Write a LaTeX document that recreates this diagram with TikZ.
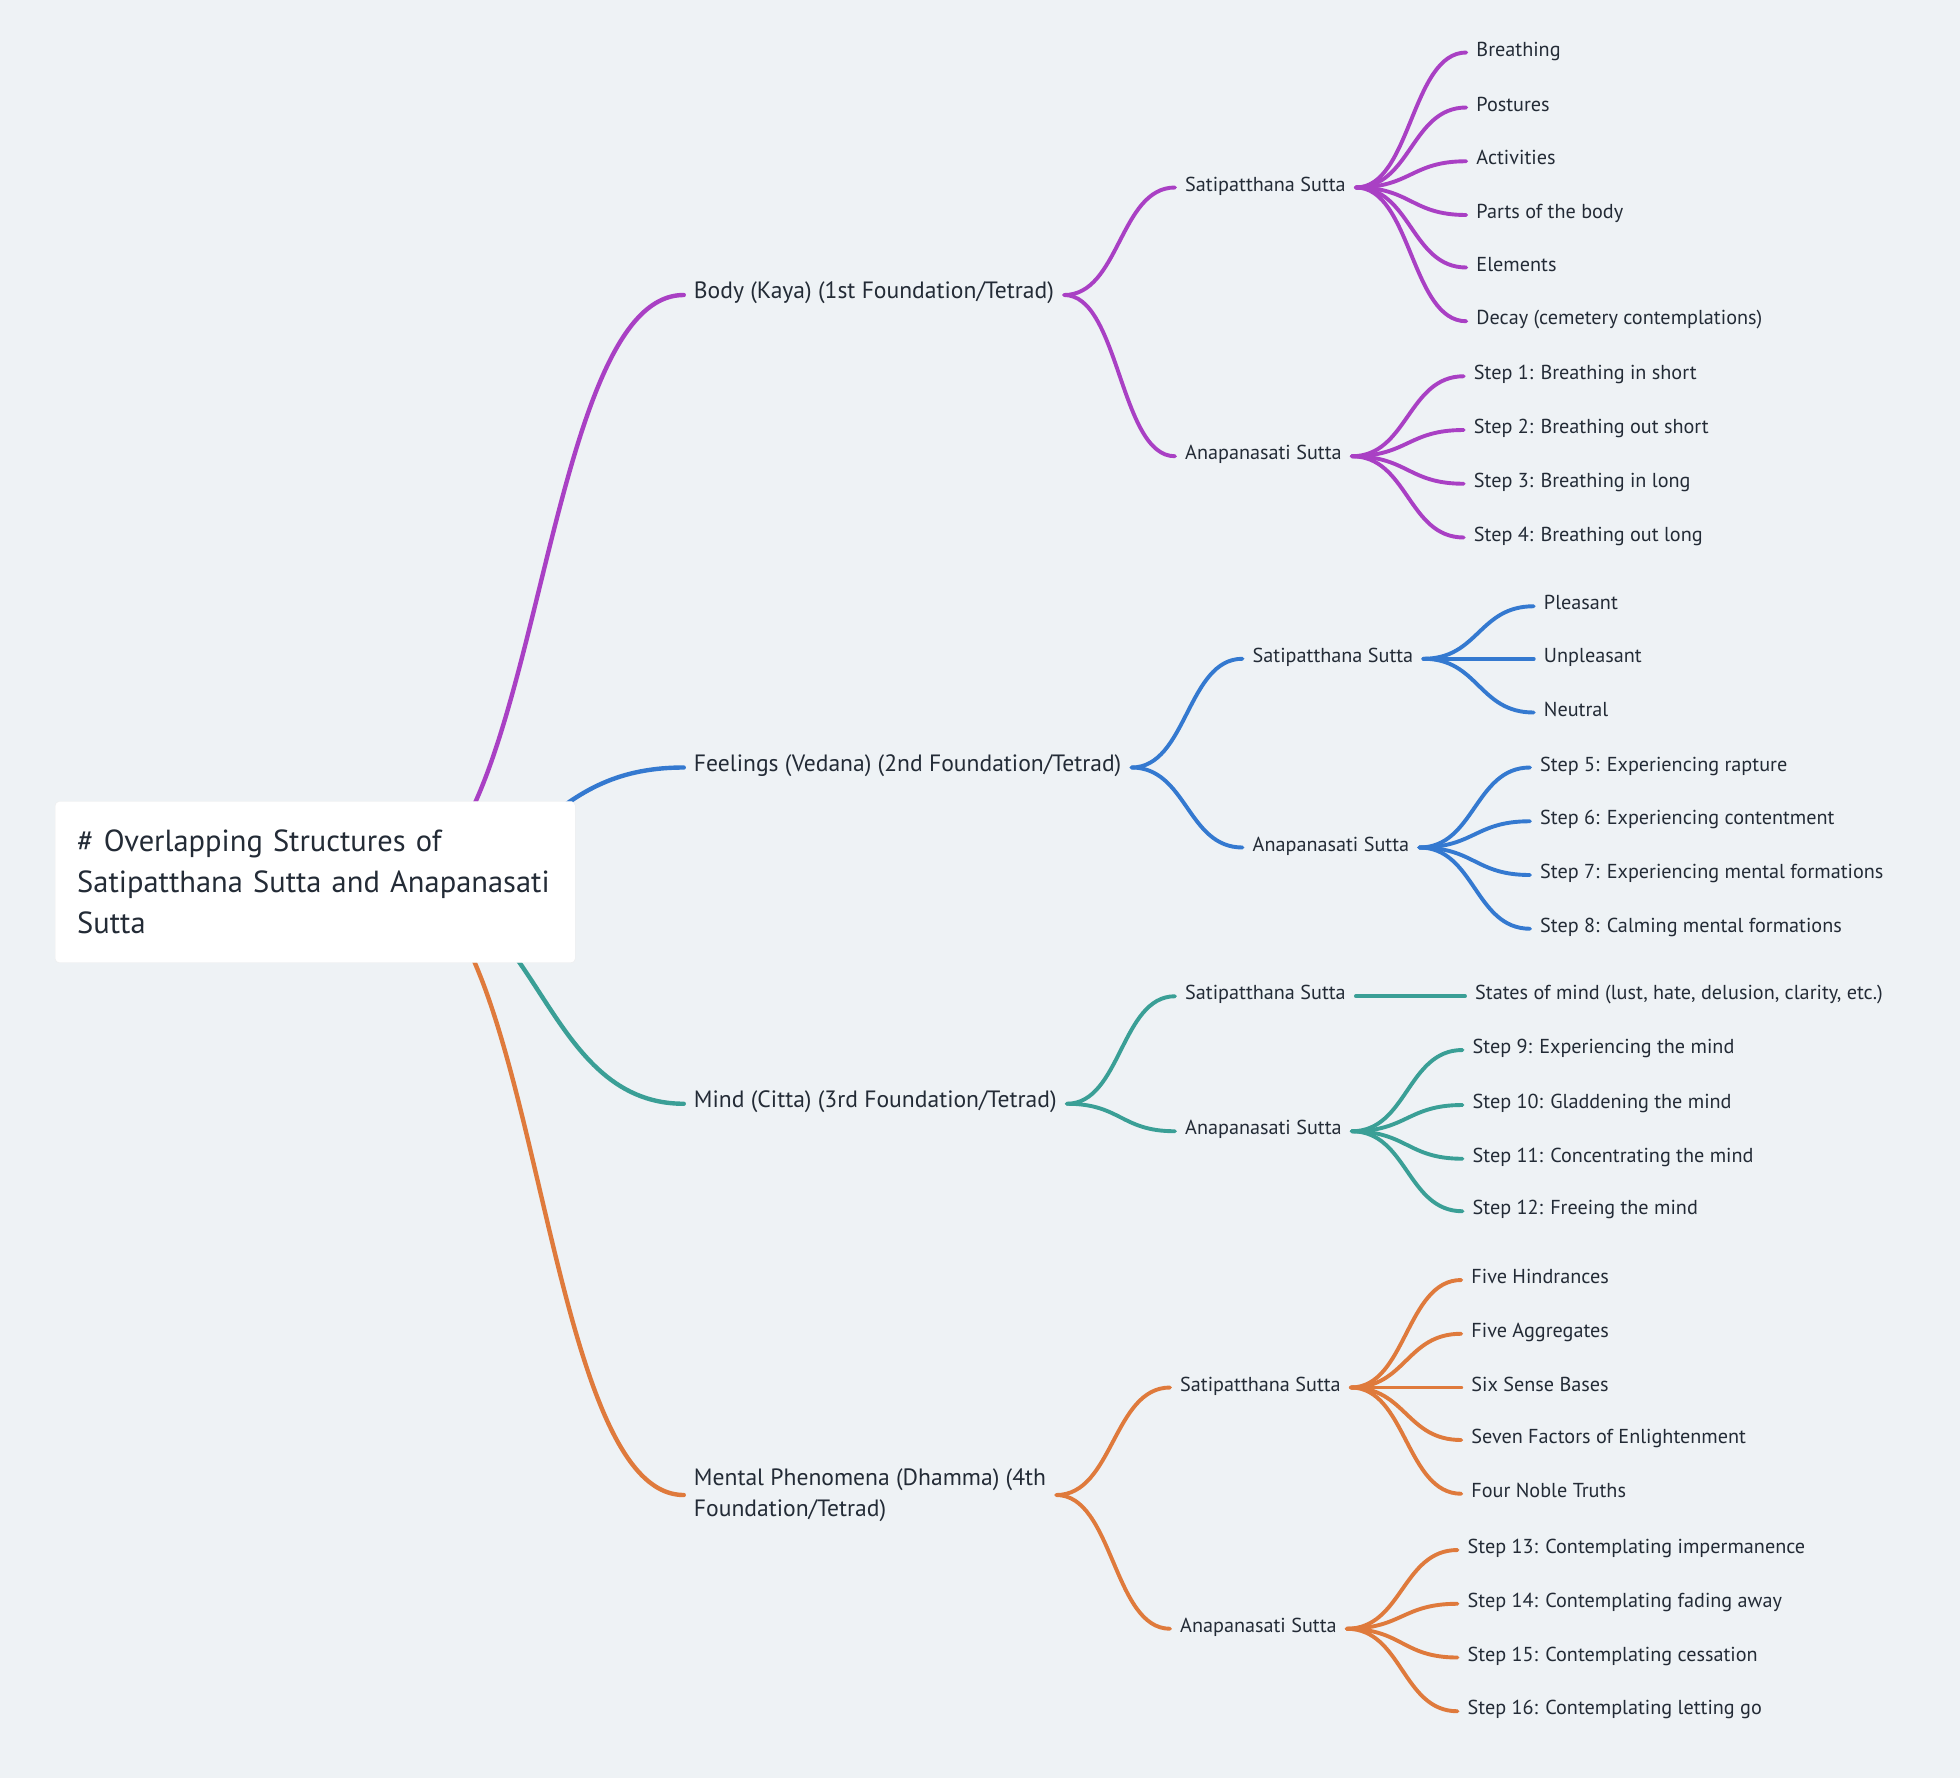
\documentclass[tikz,border=0pt]{standalone}
\usepackage{fontspec}
\setmainfont{PT Sans}
\usetikzlibrary{calc}
\definecolor{bgc}{HTML}{EEF2F5}
\definecolor{txt}{HTML}{232B36}
\definecolor{cpurp}{HTML}{A940C4}
\definecolor{cblue}{HTML}{3479D0}
\definecolor{cteal}{HTML}{3A9F96}
\definecolor{corange}{HTML}{DF7A3C}
\pgfdeclarelayer{bg}
\pgfsetlayers{bg,main}
\tikzset{
  lbl/.style={anchor=west, inner xsep=10pt, inner ysep=2pt, text=txt, text height=0.95em, text depth=0.25em, font=\fontsize{20.2}{24}\selectfont},
  lone/.style={lbl, font=\fontsize{23.6}{31}\selectfont},
  lk/.style={draw=#1, line width=3.9pt, line cap=round,
    to path={let \p1=(\tikztostart), \p2=(\tikztotarget) in
      .. controls ({(\x1+\x2)/2},\y1) and ({(\x1+\x2)/2},\y2) .. (\tikztotarget)}},
}
\begin{document}
\begin{tikzpicture}[x=1.25pt,y=-1.25pt]
\begin{pgfonlayer}{bg}
\fill[bgc] (0,0) rectangle (1568,1422);
\end{pgfonlayer}
\useasboundingbox (0,0) rectangle (1568,1422);

% root
\node[fill=white, draw=black!7, rounded corners=4pt, anchor=north west, minimum width=416*1.25pt, minimum height=129*1.25pt, inner xsep=22pt, inner ysep=0pt, text width=476pt, align=left, text=txt, font=\fontsize{30.5}{41}\selectfont] (root) at (44,641)
  {\# Overlapping Structures of\\Satipatthana Sutta and Anapanasati\\Sutta};
\coordinate (rc) at (316,705);

% level 1
\node[lone] (body) at (547,236) {Body (Kaya) (1st Foundation/Tetrad)};
\node[lone] (feel) at (547,614) {Feelings (Vedana) (2nd Foundation/Tetrad)};
\node[lone] (mind) at (547,883) {Mind (Citta) (3rd Foundation/Tetrad)};
\node[lone, align=left, text height=, text depth=] (ment) at (547,1196) {Mental Phenomena (Dhamma) (4th\\Foundation/Tetrad)};

% level 2
\node[lbl] (bs) at (940,150) {Satipatthana Sutta};
\node[lbl] (ba) at (940,365) {Anapanasati Sutta};
\node[lbl] (fs) at (994,527) {Satipatthana Sutta};
\node[lbl] (fa) at (994,678) {Anapanasati Sutta};
\node[lbl] (ms) at (940,797) {Satipatthana Sutta};
\node[lbl] (ma) at (940,905) {Anapanasati Sutta};
\node[lbl] (ps) at (936,1110) {Satipatthana Sutta};
\node[lbl] (pa) at (936,1303) {Anapanasati Sutta};

% leaves body
\node[lbl] (b1) at (1173,42) {Breathing};
\node[lbl] (b2) at (1173,86) {Postures};
\node[lbl] (b3) at (1173,129) {Activities};
\node[lbl] (b4) at (1173,172) {Parts of the body};
\node[lbl] (b5) at (1173,214) {Elements};
\node[lbl] (b6) at (1173,257) {Decay (cemetery contemplations)};
\node[lbl] (a1) at (1171,301) {Step 1: Breathing in short};
\node[lbl] (a2) at (1171,344) {Step 2: Breathing out short};
\node[lbl] (a3) at (1171,387) {Step 3: Breathing in long};
\node[lbl] (a4) at (1171,430) {Step 4: Breathing out long};
% leaves feelings
\node[lbl] (f1) at (1227,485) {Pleasant};
\node[lbl] (f2) at (1227,527) {Unpleasant};
\node[lbl] (f3) at (1227,570) {Neutral};
\node[lbl] (g1) at (1224,614) {Step 5: Experiencing rapture};
\node[lbl] (g2) at (1224,657) {Step 6: Experiencing contentment};
\node[lbl] (g3) at (1224,700) {Step 7: Experiencing mental formations};
\node[lbl] (g4) at (1224,743) {Step 8: Calming mental formations};
% leaves mind
\node[lbl] (m1) at (1172,797) {States of mind (lust, hate, delusion, clarity, etc.)};
\node[lbl] (n1) at (1170,840) {Step 9: Experiencing the mind};
\node[lbl] (n2) at (1170,884) {Step 10: Gladdening the mind};
\node[lbl] (n3) at (1170,927) {Step 11: Concentrating the mind};
\node[lbl] (n4) at (1170,969) {Step 12: Freeing the mind};
% leaves mental phenomena
\node[lbl] (p1) at (1169,1024) {Five Hindrances};
\node[lbl] (p2) at (1169,1067) {Five Aggregates};
\node[lbl] (p3) at (1169,1110) {Six Sense Bases};
\node[lbl] (p4) at (1169,1152) {Seven Factors of Enlightenment};
\node[lbl] (p5) at (1169,1195) {Four Noble Truths};
\node[lbl] (q1) at (1166,1240) {Step 13: Contemplating impermanence};
\node[lbl] (q2) at (1166,1283) {Step 14: Contemplating fading away};
\node[lbl] (q3) at (1166,1326) {Step 15: Contemplating cessation};
\node[lbl] (q4) at (1166,1369) {Step 16: Contemplating letting go};

\begin{pgfonlayer}{bg}
\draw[lk=cpurp, line width=4.4pt] (rc) to (body.west);
\draw[lk=cblue, line width=4.4pt] (rc) to (feel.west);
\draw[lk=cteal, line width=4.4pt] (rc) to (mind.west);
\draw[lk=corange, line width=4.4pt] (rc) to (ment.west);

\draw[lk=cpurp] (body.east) to (bs.west);
\draw[lk=cpurp] (body.east) to (ba.west);
\draw[lk=cblue] (feel.east) to (fs.west);
\draw[lk=cblue] (feel.east) to (fa.west);
\draw[lk=cteal] (mind.east) to (ms.west);
\draw[lk=cteal] (mind.east) to (ma.west);
\draw[lk=corange] (ment.east) to (ps.west);
\draw[lk=corange] (ment.east) to (pa.west);

\foreach \t in {b1,b2,b3,b4,b5,b6} \draw[lk=cpurp] (bs.east) to (\t.west);
\foreach \t in {a1,a2,a3,a4} \draw[lk=cpurp] (ba.east) to (\t.west);
\foreach \t in {f1,f2,f3} \draw[lk=cblue] (fs.east) to (\t.west);
\foreach \t in {g1,g2,g3,g4} \draw[lk=cblue] (fa.east) to (\t.west);
\foreach \t in {m1} \draw[lk=cteal] (ms.east) to (\t.west);
\foreach \t in {n1,n2,n3,n4} \draw[lk=cteal] (ma.east) to (\t.west);
\foreach \t in {p1,p2,p3,p4,p5} \draw[lk=corange] (ps.east) to (\t.west);
\foreach \t in {q1,q2,q3,q4} \draw[lk=corange] (pa.east) to (\t.west);
\end{pgfonlayer}
\end{tikzpicture}
\end{document}
